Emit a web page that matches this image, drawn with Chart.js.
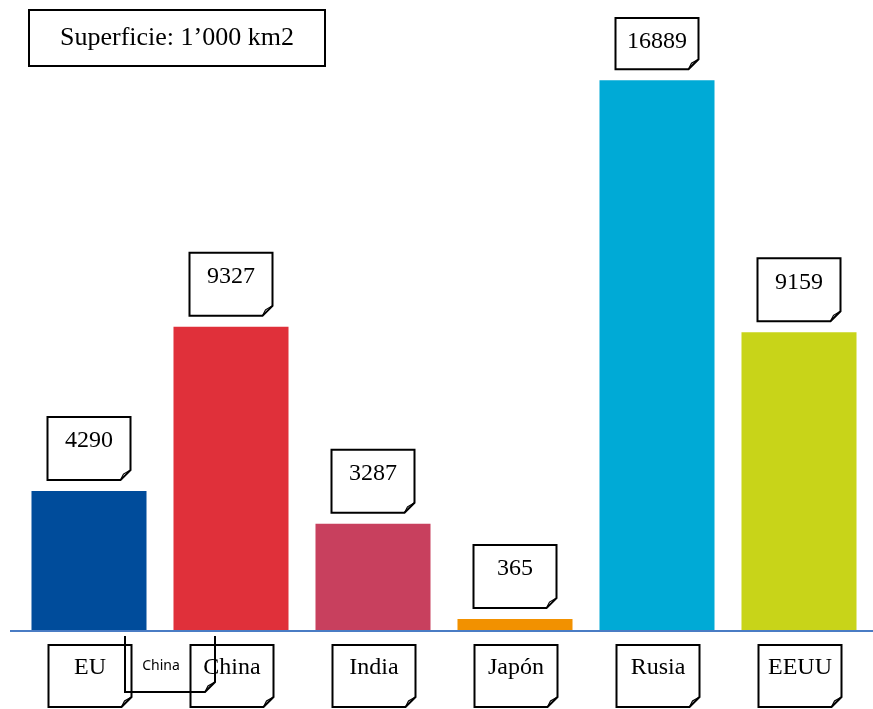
<!DOCTYPE html>
<html>
<head>
<meta charset="utf-8">
<script src="https://cdn.jsdelivr.net/npm/chart.js@4"></script>
<style>
    html, body { margin: 0; padding: 0; background: #fff; }
    #wrap { width: 873px; height: 709px; }
</style>
</head>
<body>
<div id="wrap"><canvas id="barChart" width="873" height="709"></canvas></div>
<script>
const countries = ["EU", "China", "India", "Japón", "Rusia", "EEUU"];
const superficie = [4290, 9327, 3287, 365, 16889, 9159];
const barColors = ["#004c9b", "#e0303a", "#c8405e", "#f29100", "#00aad6", "#c8d419"];
const titleText = "Superficie: 1’000 km2";
const strayLabel = "China";

const serif = '"Liberation Serif", "Times New Roman", serif';

// box with a folded bottom-right corner
function noteBox(ctx, x, y, w, h, noTop) {
    const c = 10;
    ctx.save();
    ctx.strokeStyle = "#000";
    ctx.lineWidth = 2;
    ctx.beginPath();
    if (noTop) {
        ctx.moveTo(x, y);
    } else {
        ctx.moveTo(x + w, y);
        ctx.lineTo(x, y);
    }
    ctx.lineTo(x, y + h);
    ctx.lineTo(x + w - c, y + h);
    ctx.lineTo(x + w, y + h - c);
    ctx.lineTo(x + w, y);
    if (!noTop) ctx.closePath();
    ctx.stroke();
    // the fold
    ctx.lineWidth = 1.2;
    ctx.beginPath();
    ctx.moveTo(x + w - c, y + h);
    ctx.lineTo(x + w - c + 3, y + h - c + 4);
    ctx.lineTo(x + w, y + h - c);
    ctx.stroke();
    ctx.restore();
}

const notesPlugin = {
    id: "notes",
    afterDatasetsDraw(chart) {
        const ctx = chart.ctx;
        const xs = chart.scales.x;
        const area = chart.chartArea;
        const bars = chart.getDatasetMeta(0).data;

        // axis line
        ctx.save();
        ctx.strokeStyle = "#4a7cc4";
        ctx.lineWidth = 2;
        ctx.beginPath();
        ctx.moveTo(10, area.bottom);
        ctx.lineTo(chart.width, area.bottom);
        ctx.stroke();
        ctx.restore();

        const bw = 83, bh = 63;
        ctx.save();
        ctx.fillStyle = "#000";
        ctx.textAlign = "center";
        ctx.textBaseline = "middle";
        ctx.font = "24px " + serif;

        // value notes above bars
        bars.forEach((bar, i) => {
            const bottom = bar.y - 11;
            const top = Math.max(bottom - bh, 18);
            noteBox(ctx, bar.x - bw / 2, top, bw, bottom - top, false);
            ctx.fillText(String(superficie[i]), bar.x, top + 24);
        });

        // category notes under the axis
        countries.forEach((name, i) => {
            const cx = xs.getPixelForValue(i) + 1;
            const top = area.bottom + 14;
            noteBox(ctx, cx - bw / 2, top, bw, 62, false);
            ctx.fillText(name, cx, top + 23);
        });

        // stray label between EU and China
        const l = xs.getPixelForValue(0) + 36;
        const r = xs.getPixelForValue(1) - 16;
        noteBox(ctx, l, area.bottom + 5, r - l, 56, true);
        ctx.font = '14px "Noto Sans", sans-serif';
        ctx.fillText(strayLabel, (l + r) / 2 - 9, area.bottom + 35);

        // title box
        ctx.lineWidth = 2;
        ctx.strokeStyle = "#000";
        ctx.strokeRect(29, 10, 296, 56);
        ctx.font = "26px " + serif;
        ctx.fillText(titleText, 177, 38);
        ctx.restore();
    }
};

const ctx = document.getElementById("barChart").getContext("2d");
const barChart = new Chart(ctx, {
    type: "bar",
    data: {
        labels: countries,
        datasets: [
            {
                label: titleText,
                data: superficie,
                backgroundColor: barColors,
                borderWidth: 0,
                barPercentage: 0.81,
                categoryPercentage: 1,
            },
        ],
    },
    options: {
        responsive: false,
        animation: false,
        layout: { padding: { left: 18, right: 3, top: 44, bottom: 78 } },
        plugins: {
            legend: { display: false },
            tooltip: { enabled: false },
        },
        scales: {
            x: { display: false },
            y: { display: false, min: 0, max: 18000 },
        },
    },
    plugins: [notesPlugin],
});
</script>
</body>
</html>
